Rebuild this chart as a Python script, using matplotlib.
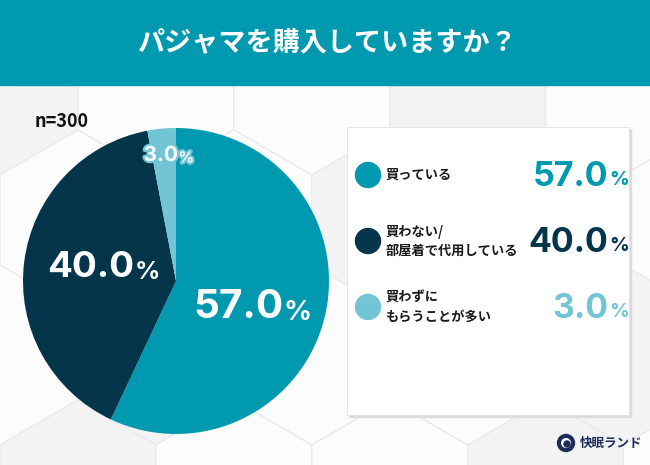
import numpy as np
import matplotlib.pyplot as plt
from matplotlib.patches import Rectangle, Circle, RegularPolygon
import matplotlib.patheffects as pe

title = "パジャマを購入していますか？"
sample = "n=300"
labels = ["買っている", "買わない/\n部屋着で代用している", "買わずに\nもらうことが多い"]
values = [57.0, 40.0, 3.0]
colors = ["#0099B0", "#04354A", "#72C5D4"]

jp = ["Noto Sans CJK JP", "DejaVu Sans"]
num = ["Inter", "DejaVu Sans"]

fig = plt.figure(figsize=(6.5, 4.65), dpi=100)
fig.patch.set_facecolor("#f7f7f7")

# layout axes in pixel coordinates (background layer)
bg = fig.add_axes([0, 0, 1, 1])
bg.set_xlim(0, 650)
bg.set_ylim(465, 0)
bg.axis("off")

# faint hexagon background
r = 90
w = r * np.sqrt(3)
for j in range(-1, 5):
    for i in range(-1, 6):
        x = i * w + (j % 2) * w / 2
        y = 85 + j * r * 1.5
        shade = "#fcfcfc" if (i + j) % 3 else "#f3f3f3"
        bg.add_patch(RegularPolygon((x, y), 6, radius=r, orientation=0,
                                    facecolor=shade, edgecolor="#ebebeb", lw=1))

# header band
bg.add_patch(Rectangle((0, 0), 650, 85, color="#0099B0", zorder=3))
bg.text(327, 43, title, color="white", fontsize=19.5, fontweight="bold",
        family=jp, ha="center", va="center", zorder=4)

bg.text(35, 121, sample, fontsize=13, fontweight="bold", family=jp,
        ha="left", va="center", color="#111111")

# legend box
bg.add_patch(Rectangle((349, 129), 282, 288, color="#dcdcdc", zorder=2))
bg.add_patch(Rectangle((347, 127), 282, 288, facecolor="white", edgecolor="#e2e2e2", lw=0.6, zorder=3))

ly = [175, 241, 307]
for k in range(3):
    bg.add_patch(Circle((368, ly[k]), 12.5, color=colors[k], zorder=4))
    bg.text(386, ly[k], labels[k], fontsize=9.5, fontweight="bold", family=jp,
            ha="left", va="center", color="#1a1a1a", linespacing=1.45, zorder=4)
    bg.text(608, ly[k] + 2, f"{values[k]:.1f}", fontsize=24.5, fontweight="bold",
            family=num, ha="right", va="center", color=colors[k], zorder=4)
    bg.text(609, ly[k] + 5, "%", fontsize=14, fontweight="bold",
            family=num, ha="left", va="center", color=colors[k], zorder=4)

# logo
bg.add_patch(Circle((566, 443), 8.5, color="#1c2d5a", zorder=4))
bg.add_patch(Circle((566, 443), 5, facecolor="white", edgecolor="none", zorder=5))
bg.add_patch(Circle((567, 444), 3, color="#1c2d5a", zorder=6))
bg.text(580, 443, "快眠ランド", fontsize=9, fontweight="bold", family=jp,
        ha="left", va="center", color="#1c2d5a", zorder=4)

# pie
cx, cy, rad = 176, 281, 153
pax = fig.add_axes([(cx - rad) / 650, (465 - cy - rad) / 465, 2 * rad / 650, 2 * rad / 465])
pax.pie(values, colors=colors, startangle=90, counterclock=False,
        wedgeprops=dict(linewidth=0))
pax.set_xlim(-1, 1)
pax.set_ylim(-1, 1)
pax.set_aspect("auto")
pax.axis("off")

# labels on top layer
top = fig.add_axes([0, 0, 1, 1], facecolor="none")
top.set_xlim(0, 650)
top.set_ylim(465, 0)
top.axis("off")

pie_pos = [(283, 307, 29, 20), (134, 267, 26.5, 18), (178, 155, 15, 11)]
for k in range(3):
    x, y, fs, fs2 = pie_pos[k]
    t1 = top.text(x, y, f"{values[k]:.1f}", fontsize=fs, fontweight="bold", family=num,
                  ha="right", va="center", color="white")
    t2 = top.text(x + 0.5, y + fs * 0.2, "%", fontsize=fs2, fontweight="bold", family=num,
                  ha="left", va="center", color="white")
    if k == 2:
        eff = [pe.withStroke(linewidth=3, foreground=colors[2])]
        t1.set_path_effects(eff)
        t2.set_path_effects(eff)

plt.savefig("out.png", dpi=100, facecolor=fig.get_facecolor())
